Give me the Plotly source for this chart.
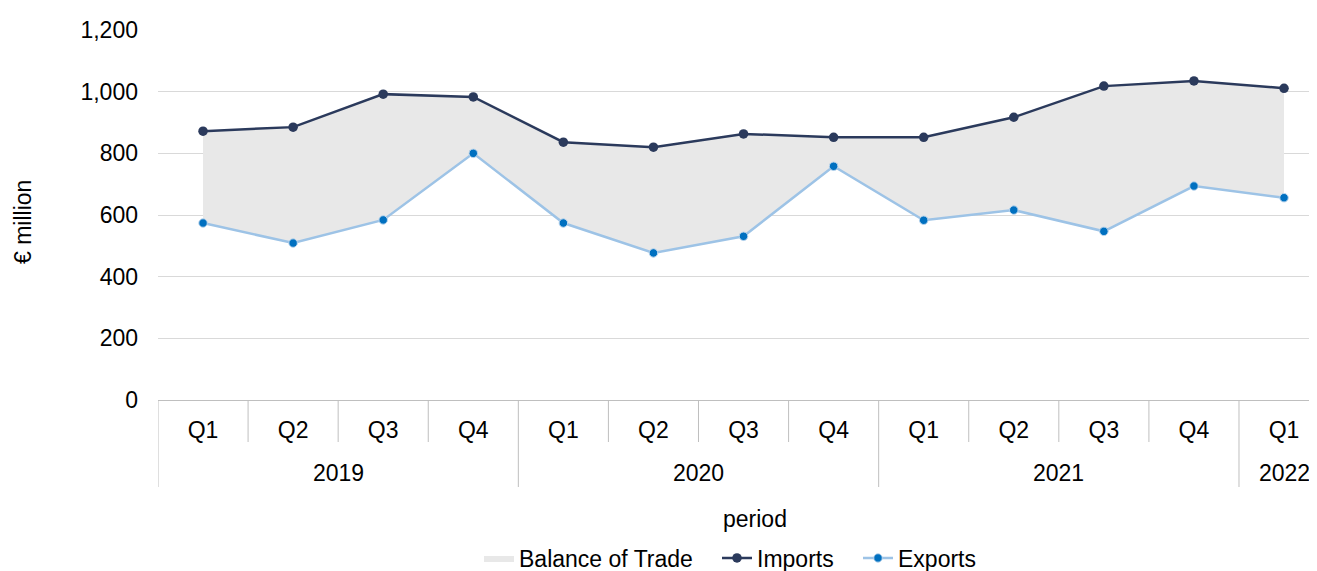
import plotly.graph_objects as go

years = ["2019"] * 4 + ["2020"] * 4 + ["2021"] * 4 + ["2022"]
quarters = ["Q1", "Q2", "Q3", "Q4"] * 3 + ["Q1"]
imports = [872, 885, 992, 983, 836, 820, 863, 852, 852, 917, 1018, 1035, 1011]
exports = [574, 509, 584, 800, 574, 477, 531, 758, 583, 616, 547, 694, 656]

font = "Liberation Sans, Arial, sans-serif"
navy = "#2B3A5C"
light = "#9DC3E6"
blue = "#0070C0"
sep = "#BFBFBF"
FS = 23

OFF = 8
W, H = 1317, 571
L, R, T = 158 - OFF, OFF, 30 - OFF
PH = 370
B = H - T - PH
PW = W - L - R
Y0 = 400
X0 = 158


def py(screen_y):
    return -(screen_y - Y0) / PH


def px(screen_x):
    return (screen_x - X0) / PW


idx = list(range(len(quarters)))

fig = go.Figure()
fig.add_trace(go.Scatter(x=idx, y=exports, mode="lines", line=dict(width=0),
                         showlegend=False, hoverinfo="skip"))
fig.add_trace(go.Scatter(x=idx, y=imports, mode="lines", line=dict(width=0),
                         fill="tonexty", fillcolor="#E8E8E8",
                         name="Balance of Trade", legend="legend"))
fig.add_trace(go.Scatter(x=idx, y=imports, mode="lines+markers", name="Imports",
                         line=dict(color=navy, width=2.5),
                         marker=dict(color=navy, size=9.5), legend="legend2"))
fig.add_trace(go.Scatter(x=idx, y=exports, mode="lines+markers", name="Exports",
                         line=dict(color=light, width=2.5),
                         marker=dict(color=blue, size=8.5, line=dict(color="#BDD7EE", width=1)),
                         legend="legend3"))

shapes = []
n = len(quarters)
for i in range(n + 1):
    newyear = (i == 0) or (i == n) or (years[i] != years[i - 1])
    bottom = 487 if newyear else 442
    shapes.append(dict(type="line", xref="x", yref="paper", x0=i - 0.5, x1=i - 0.5,
                       y0=0, y1=py(bottom), line=dict(color=sep, width=1), layer="above"))

annotations = []
seen = []
for y in years:
    if y not in seen:
        seen.append(y)
for y in seen:
    pos = [i for i in idx if years[i] == y]
    annotations.append(dict(x=sum(pos) / len(pos), xref="x", y=py(473), yref="paper",
                            text=y, showarrow=False, xanchor="center", yanchor="middle",
                            font=dict(size=FS)))
annotations.append(dict(x=px(755), xref="paper", y=py(519), yref="paper",
                        text="period", showarrow=False, xanchor="center", yanchor="middle",
                        font=dict(size=FS)))
annotations.append(dict(x=px(23), xref="paper", y=py(222), yref="paper",
                        text="€ million", textangle=-90, showarrow=False,
                        xanchor="center", yanchor="middle", font=dict(size=FS)))

leg_common = dict(orientation="h", xanchor="left", yanchor="middle", y=py(558),
                  font=dict(size=FS), itemwidth=30, bgcolor="rgba(0,0,0,0)")
PAD = 5
fig.update_layout(
    width=W, height=H,
    margin=dict(l=L, r=R, t=T, b=B, autoexpand=False),
    paper_bgcolor="white", plot_bgcolor="white",
    font=dict(family=font, size=FS, color="#000000"),
    showlegend=True,
    legend=dict(x=px(484 - PAD), **leg_common),
    legend2=dict(x=px(722 - PAD), **leg_common),
    legend3=dict(x=px(863 - PAD), **leg_common),
    shapes=shapes, annotations=annotations,
)
fig.update_yaxes(range=[0, 1200], dtick=200, tickformat=",", showgrid=True,
                 gridcolor="#D9D9D9", gridwidth=1, zeroline=False, showline=False,
                 ticks="", ticklabelstandoff=19, automargin=False)
fig.update_xaxes(range=[-0.5, 12.366], tickmode="array", tickvals=idx, ticktext=quarters,
                 showgrid=False, zeroline=False,
                 showline=True, linecolor=sep, linewidth=1, ticks="",
                 ticklabelstandoff=9, automargin=False)

fig.write_html("out.html")
